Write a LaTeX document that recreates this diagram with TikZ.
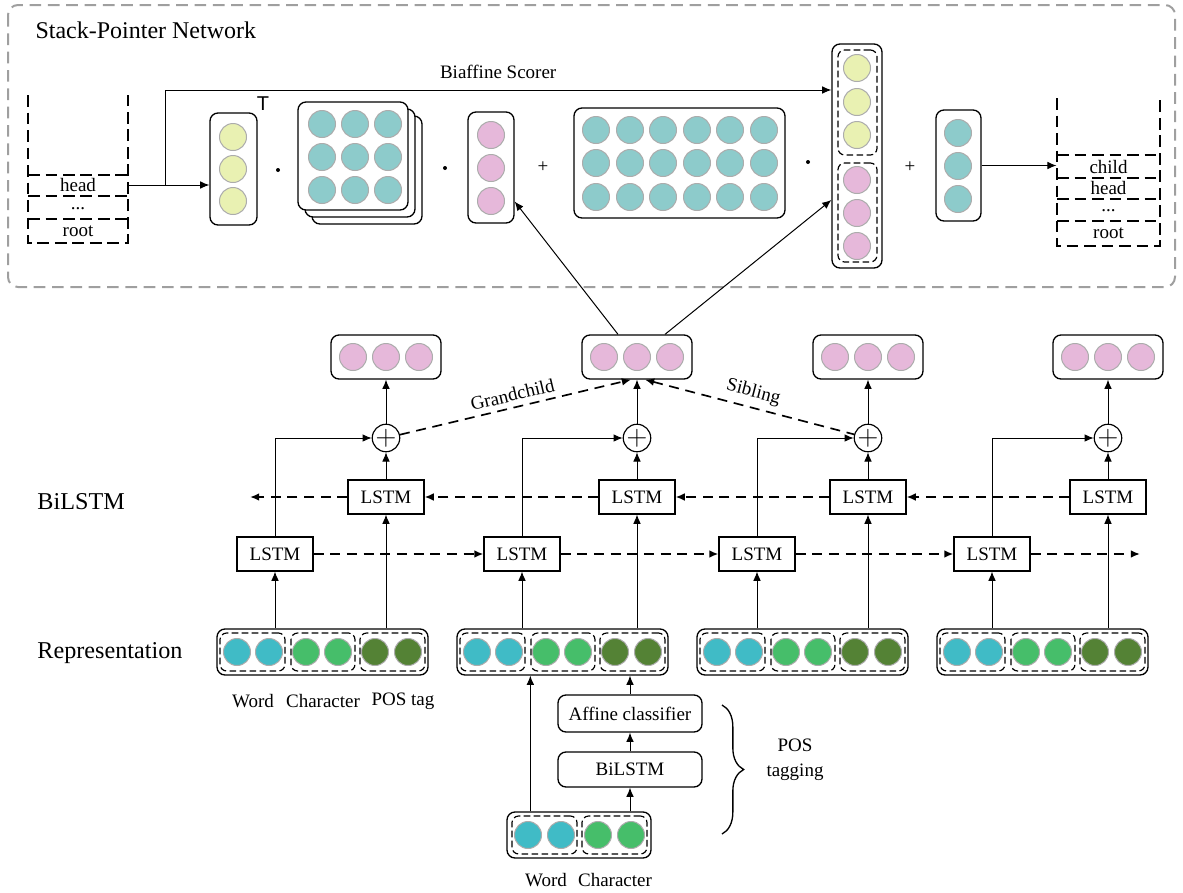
\documentclass[tikz,border=0pt]{standalone}
\usepackage{fontspec}
\setmainfont{Liberation Serif}
\setsansfont{Liberation Sans}
\usetikzlibrary{calc, fit, positioning, arrows.meta, decorations.pathreplacing}

\definecolor{yelc}{RGB}{233,241,178}
\definecolor{tealc}{RGB}{141,203,203}
\definecolor{pinkc}{RGB}{230,184,218}
\definecolor{wordc}{RGB}{64,187,198}
\definecolor{charc}{RGB}{70,190,106}
\definecolor{posc}{RGB}{84,130,53}

\tikzset{
  ball/.style={circle, draw=gray!65, line width=0.6pt, fill=#1, minimum size=16.2pt, inner sep=0pt},
  vbox/.style={draw, rounded corners=4.8pt, line width=0.8pt, inner sep=0pt},
  grp/.style={draw, dash pattern=on 4pt off 2pt, rounded corners=4pt, line width=0.7pt, inner sep=0pt},
  stackline/.style={dash pattern=on 7pt off 3.5pt, line width=0.9pt},
  celltext/.style={inner sep=0pt},
  lstm/.style={draw, line width=0.7pt, minimum width=45.6pt, minimum height=20.4pt, inner sep=0pt},
  oplus/.style={circle, draw, line width=0.7pt, minimum size=15.6pt, inner sep=0pt, font=\fontsize{17}{17}\selectfont},
  prod/.style={circle, fill, inner sep=0pt, minimum size=2.4pt},
  dline/.style={line width=1pt, dash pattern=on 6pt off 4pt},
  sidelabel/.style={anchor=west, inner sep=0pt, font=\fontsize{14.5}{17}\selectfont}
}

\begin{document}
\begin{tikzpicture}[x=0.6pt, y=-0.6pt, >={Latex[length=5.5pt,width=4.6pt]}, font=\fontsize{11.4}{15}\selectfont, line width=0.6pt]
  \useasboundingbox (0,0) rectangle (1183,892);

  \draw[gray!75, line width=1.2pt, dash pattern=on 7pt off 4pt, rounded corners=6pt] (8,5) rectangle (1175,287);
  \node[anchor=west, inner sep=0pt, font=\fontsize{14.4}{17}\selectfont] (spn) at (35,30) {Stack-Pointer Network};

  % stacks
  \draw[stackline] (28,95) -- (28,243) -- (128,243) -- (128,95);
  \foreach \y in {175,196,219}
    \draw[stackline] (28,\y) -- (128,\y);
  \node[celltext, minimum width=60pt] (lhead) at (78,185) {head};
  \node[celltext] (ldots) at (78,209) {...};
  \node[celltext] (lroot) at (78,231) {root};

  \draw[stackline] (1057,98) -- (1057,246) -- (1160,246) -- (1160,98);
  \foreach \y in {155,178,199,221}
    \draw[stackline] (1057,\y) -- (1160,\y);
  \node[celltext, minimum width=61.8pt] (rchild) at (1108.5,166.5) {child};
  \node[celltext] (rhead) at (1108.5,188) {head};
  \node[celltext] (rdots) at (1108.5,211) {...};
  \node[celltext] (rroot) at (1108.5,233.5) {root};

  % biaffine scorer
  \node[vbox, fit={(210,113) (257,225)}] (yvec) {};
  \foreach \y [count=\k] in {137,169,201}
    \node[ball=yelc] (yvec-c\k) at (233,\y) {};
  \node[font=\sffamily\fontsize{12}{12}\selectfont] (tp) at (263,104) {T};
  \node[prod] (dot1) at (278,170) {};

  \foreach \s in {14,7}
    \draw[rounded corners=4.8pt, line width=0.8pt, fill=white] (298+\s,102+\s) rectangle (408+\s,210+\s);
  \node[vbox, fill=white, fit={(298,102) (408,210)}] (tens) {};
  \foreach \x [count=\k] in {322,355,388}
    \foreach \y [count=\m] in {124,157,190}
      \node[ball=tealc] (tens-c\k\m) at (\x,\y) {};
  \node[prod] (dot2) at (445,168) {};

  \node[vbox, fit={(468,112) (514,223)}] (pvec) {};
  \foreach \y [count=\k] in {135,168,201}
    \node[ball=pinkc] (pvec-c\k) at (491,\y) {};
  \node (plus1) at (543,167) {+};

  \node[vbox, fit={(574,108) (785,218)}] (wmat) {};
  \foreach \x [count=\k] in {596,630,663,697,730,764}
    \foreach \y [count=\m] in {130,163,197}
      \node[ball=tealc] (wmat-c\k\m) at (\x,\y) {};
  \node[prod] (dot3) at (808,162) {};

  \node[vbox, fit={(832,44) (882,268)}] (cvec) {};
  \node[grp, fit={(838,50) (877,155)}] (cva) {};
  \node[grp, fit={(838,163) (877,262)}] (cvb) {};
  \foreach \y [count=\k] in {68,102,135}
    \node[ball=yelc] (cva-c\k) at (857,\y) {};
  \foreach \y [count=\k] in {180,213,246}
    \node[ball=pinkc] (cvb-c\k) at (857,\y) {};
  \node (plus2) at (910,167) {+};

  \node[vbox, fit={(936,110) (981,221)}] (tvec) {};
  \foreach \y [count=\k] in {133,166,199}
    \node[ball=tealc] (tvec-c\k) at (958,\y) {};

  \coordinate (bsplit) at (165,90);
  \draw[->] (lhead.east) -- (lhead.east -| yvec.west);
  \draw[->] (lhead.east -| bsplit) -- (bsplit) -- (bsplit -| cvec.west) node[midway, above=3pt] {Biaffine Scorer};
  \draw[->] (tvec.east) -- (tvec.east -| rchild.west);

  % encoder
  \foreach \i/\L/\f/\b in {1/217/275/386, 2/457/522/637, 3/697/757/868, 4/937/992/1108} {
    \node[vbox, fit={(\L,629) (\L+211,675)}] (rep\i) {};
    \foreach \a/\e [count=\k] in {3/68, 74/138, 143/208}
      \node[grp, fit={(\L+\a,633) (\L+\e,671)}] (rep\i-g\k) {};
    \foreach \dx/\c [count=\k] in {20/wordc, 52/wordc, 89/charc, 121/charc, 158/posc, 191/posc}
      \node[ball=\c] (rep\i-c\k) at (\L+\dx,652) {};
    \node[lstm] (f\i) at (\f,554) {LSTM};
    \node[lstm] (b\i) at (\b,497) {LSTM};
    \node[oplus] (op\i) at (\b,438) {$+$};
    \node[vbox, fit={(\b-55,335) (\b+55,379)}] (pk\i) {};
    \foreach \dx [count=\k] in {-33,0,33}
      \node[ball=pinkc] (pk\i-c\k) at (\b+\dx,357) {};
    \draw[->] (rep\i.north -| f\i) -- (f\i);
    \draw[->] (rep\i.north -| b\i) -- (b\i);
    \draw[->] (f\i.north) |- (op\i);
    \draw[->] (b\i) -- (op\i);
    \draw[->] (op\i) -- (pk\i);
  }

  \coordinate (bend) at (250,497);
  \coordinate (fend) at (1140,554);
  \draw[dline,->] (b1) -- (bend);
  \foreach \i/\j in {2/1, 3/2, 4/3}
    \draw[dline,->] (b\i) -- (b\j);
  \foreach \i/\j in {1/2, 2/3, 3/4}
    \draw[dline,->] (f\i) -- (f\j);
  \draw[dline,->] (f4) -- (fend);

  \draw[dline,->] (op1) -- ($(pk2.south)+(-6,0)$) node[midway, above, sloped] {Grandchild};
  \draw[dline,<-] ($(pk2.south)+(8,0)$) -- (op3) node[midway, above, sloped] {Sibling};

  \draw[->] ($(pk2.north)+(-19,0)$) -- ($(pvec.east)+(0,34)$);
  \draw[->] ($(pk2.north)+(28,0)$) -- ($(cvec.west)+(0,44)$);

  \node[sidelabel] (lbil) at (37,502) {BiLSTM};
  \node[sidelabel] (lrep) at (37,653) {Representation};

  \node (lw) at (253,701) {Word};
  \node (lc) at (323,701) {Character};
  \node (lp) at (403,701) {POS tag};

  % pos tagging
  \node[vbox, fit={(507,812) (651,858)}] (wc) {};
  \foreach \a/\e [count=\k] in {512/577, 582/647}
    \node[grp, fit={(\a,816) (\e,854)}] (wc-g\k) {};
  \foreach \x/\c [count=\k] in {528/wordc, 561/wordc, 598/charc, 631/charc}
    \node[ball=\c] (wc-c\k) at (\x,835) {};
  \node[vbox, minimum width=86.4pt, minimum height=21pt] (bil) at (630,769.5) {BiLSTM};
  \node[vbox, minimum width=86.4pt, minimum height=22.2pt] (aff) at (630,713.5) {Affine classifier};

  \coordinate (wup) at ($(wc.north west)+(24,0)$);
  \draw[->] (wup) -- (wup |- rep2.south);
  \draw[->] (wc.north -| bil) -- (bil);
  \draw[->] (bil) -- (aff);
  \draw[->] (aff) -- (aff |- rep2.south);

  \draw[decorate, decoration={brace, amplitude=13pt}, line width=0.8pt] (722,705) -- (722,834);
  \node[align=center] (postag) at (795,760) {POS\\tagging};

  \node (bw) at (546,880) {Word};
  \node (bc) at (615,880) {Character};
\end{tikzpicture}
\end{document}
